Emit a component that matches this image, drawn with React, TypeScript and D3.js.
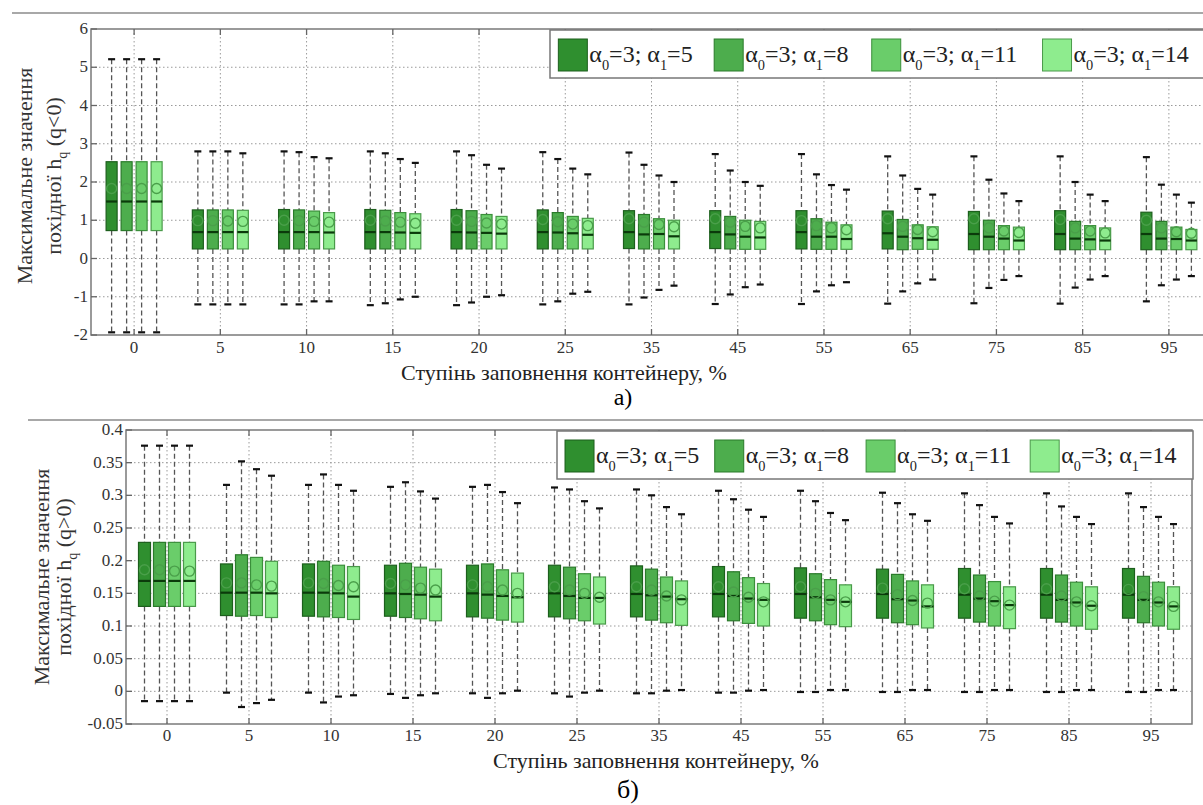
import React from "react";
import * as d3 from "d3";

const CATEGORIES = ["0", "5", "10", "15", "20", "25", "35", "45", "55", "65", "75", "85", "95"];
const ALPHA0 = [3, 3, 3, 3];
const ALPHA1 = [5, 8, 11, 14];
const FILLS = ["#2f8f2f", "#4dad4d", "#6acd6a", "#8eec8e"];
const STROKES = ["#1d5f1d", "#2a7a2a", "#3b8f3b", "#4a9a4a"];

// ---- panel a) h_q (q<0) ----
const TOP_HI = [
  [5.21, 2.8, 2.8, 2.8, 2.8, 2.78, 2.77, 2.73, 2.73, 2.67, 2.67, 2.67, 2.65],
  [5.21, 2.8, 2.78, 2.75, 2.7, 2.6, 2.45, 2.3, 2.2, 2.17, 2.06, 2.0, 1.93],
  [5.21, 2.8, 2.65, 2.6, 2.45, 2.35, 2.17, 2.0, 1.92, 1.82, 1.7, 1.67, 1.67],
  [5.21, 2.75, 2.62, 2.5, 2.35, 2.2, 2.0, 1.9, 1.8, 1.67, 1.5, 1.5, 1.46],
];
const TOP_Q3 = [
  [2.53, 1.27, 1.28, 1.28, 1.28, 1.27, 1.25, 1.25, 1.25, 1.24, 1.23, 1.25, 1.21],
  [2.53, 1.27, 1.27, 1.26, 1.25, 1.2, 1.15, 1.1, 1.04, 1.02, 1.0, 0.97, 0.97],
  [2.53, 1.27, 1.24, 1.2, 1.15, 1.1, 1.04, 1.0, 0.95, 0.88, 0.86, 0.86, 0.82],
  [2.53, 1.26, 1.2, 1.17, 1.1, 1.05, 1.0, 0.97, 0.88, 0.83, 0.82, 0.8, 0.76],
];
const TOP_MED = [
  [1.49, 0.69, 0.69, 0.69, 0.69, 0.69, 0.69, 0.69, 0.69, 0.66, 0.64, 0.64, 0.64],
  [1.49, 0.69, 0.69, 0.69, 0.68, 0.68, 0.63, 0.63, 0.57, 0.57, 0.57, 0.52, 0.52],
  [1.49, 0.69, 0.69, 0.68, 0.67, 0.66, 0.64, 0.57, 0.57, 0.53, 0.52, 0.5, 0.51],
  [1.49, 0.69, 0.68, 0.67, 0.65, 0.62, 0.58, 0.55, 0.51, 0.49, 0.47, 0.47, 0.47],
];
const TOP_MEAN = [
  [1.83, 0.99, 1.0, 1.0, 1.0, 1.02, 1.04, 1.04, 0.99, 1.04, 1.04, 1.02, 1.0],
  [1.83, 0.99, 0.99, 0.98, 0.97, 0.96, 0.95, 0.95, 0.86, 0.84, 0.8, 0.8, 0.8],
  [1.83, 0.98, 0.97, 0.95, 0.93, 0.9, 0.89, 0.84, 0.8, 0.76, 0.72, 0.72, 0.7],
  [1.83, 0.97, 0.95, 0.92, 0.9, 0.86, 0.83, 0.8, 0.75, 0.7, 0.68, 0.67, 0.66],
];
const TOP_Q1 = [
  [0.73, 0.25, 0.25, 0.25, 0.25, 0.25, 0.26, 0.26, 0.25, 0.25, 0.23, 0.23, 0.23],
  [0.73, 0.25, 0.25, 0.25, 0.25, 0.25, 0.25, 0.25, 0.24, 0.23, 0.23, 0.23, 0.23],
  [0.73, 0.25, 0.25, 0.25, 0.25, 0.25, 0.25, 0.24, 0.24, 0.24, 0.23, 0.23, 0.23],
  [0.73, 0.25, 0.25, 0.25, 0.25, 0.25, 0.25, 0.24, 0.24, 0.24, 0.23, 0.23, 0.23],
];
const TOP_LO = [
  [-1.93, -1.2, -1.2, -1.22, -1.22, -1.2, -1.2, -1.19, -1.19, -1.18, -1.17, -1.18, -1.12],
  [-1.93, -1.2, -1.2, -1.17, -1.15, -1.12, -1.02, -0.94, -0.86, -0.86, -0.77, -0.76, -0.7],
  [-1.93, -1.2, -1.12, -1.07, -1.0, -0.92, -0.82, -0.75, -0.7, -0.65, -0.56, -0.55, -0.55],
  [-1.93, -1.2, -1.12, -1.0, -0.96, -0.87, -0.71, -0.68, -0.62, -0.55, -0.46, -0.46, -0.46],
];
const TOP_YTICKS = [-2, -1, 0, 1, 2, 3, 4, 5, 6];
const TOP_YLABELS = ["-2", "-1", "0", "1", "2", "3", "4", "5", "6"];

// ---- panel б) h_q (q>0) ----
const BOT_HI = [
  [0.376, 0.316, 0.316, 0.313, 0.313, 0.312, 0.309, 0.307, 0.307, 0.304, 0.303, 0.303, 0.303],
  [0.376, 0.352, 0.332, 0.32, 0.316, 0.309, 0.3, 0.294, 0.291, 0.288, 0.285, 0.283, 0.282],
  [0.376, 0.34, 0.316, 0.306, 0.305, 0.291, 0.282, 0.278, 0.273, 0.271, 0.267, 0.267, 0.267],
  [0.376, 0.33, 0.307, 0.295, 0.288, 0.28, 0.271, 0.267, 0.262, 0.261, 0.257, 0.256, 0.256],
];
const BOT_Q3 = [
  [0.228, 0.195, 0.195, 0.193, 0.193, 0.193, 0.192, 0.191, 0.189, 0.187, 0.188, 0.188, 0.188],
  [0.228, 0.209, 0.199, 0.196, 0.195, 0.19, 0.187, 0.183, 0.18, 0.179, 0.178, 0.178, 0.176],
  [0.228, 0.205, 0.193, 0.19, 0.186, 0.18, 0.175, 0.174, 0.171, 0.169, 0.168, 0.167, 0.167],
  [0.228, 0.199, 0.191, 0.187, 0.181, 0.175, 0.169, 0.165, 0.163, 0.163, 0.16, 0.16, 0.16],
];
const BOT_MED = [
  [0.169, 0.151, 0.151, 0.15, 0.15, 0.15, 0.149, 0.149, 0.149, 0.149, 0.148, 0.148, 0.148],
  [0.169, 0.151, 0.151, 0.149, 0.148, 0.146, 0.147, 0.146, 0.144, 0.141, 0.142, 0.14, 0.14],
  [0.169, 0.151, 0.15, 0.148, 0.146, 0.143, 0.145, 0.142, 0.14, 0.139, 0.138, 0.136, 0.136],
  [0.169, 0.15, 0.145, 0.145, 0.144, 0.143, 0.141, 0.14, 0.137, 0.13, 0.132, 0.131, 0.13],
];
const BOT_MEAN = [
  [0.186, 0.166, 0.166, 0.165, 0.163, 0.16, 0.16, 0.16, 0.16, 0.158, 0.157, 0.157, 0.156],
  [0.186, 0.166, 0.165, 0.163, 0.16, 0.155, 0.155, 0.152, 0.15, 0.148, 0.146, 0.146, 0.145],
  [0.184, 0.163, 0.162, 0.158, 0.155, 0.15, 0.146, 0.144, 0.14, 0.139, 0.138, 0.137, 0.137],
  [0.184, 0.161, 0.16, 0.155, 0.15, 0.144, 0.14, 0.137, 0.137, 0.135, 0.132, 0.131, 0.13],
];
const BOT_Q1 = [
  [0.13, 0.116, 0.115, 0.115, 0.114, 0.114, 0.114, 0.114, 0.112, 0.112, 0.112, 0.112, 0.112],
  [0.13, 0.115, 0.114, 0.113, 0.112, 0.111, 0.109, 0.108, 0.108, 0.105, 0.106, 0.106, 0.105],
  [0.13, 0.116, 0.113, 0.111, 0.109, 0.108, 0.105, 0.104, 0.102, 0.102, 0.1, 0.1, 0.1],
  [0.13, 0.113, 0.11, 0.108, 0.106, 0.103, 0.101, 0.1, 0.099, 0.097, 0.096, 0.095, 0.095],
];
const BOT_LO = [
  [-0.015, -0.002, -0.002, -0.004, -0.003, -0.003, -0.003, -0.002, -0.001, -0.001, -0.001, -0.001, -0.001],
  [-0.015, -0.024, -0.017, -0.01, -0.01, -0.008, -0.003, -0.002, -0.001, -0.001, -0.001, -0.001, -0.001],
  [-0.015, -0.018, -0.008, -0.006, -0.003, -0.002, 0.001, 0.001, 0.002, 0.002, 0.002, 0.002, 0.002],
  [-0.015, -0.013, -0.006, -0.003, 0.001, 0.001, 0.002, 0.002, 0.002, 0.002, 0.002, 0.002, 0.002],
];
const BOT_YTICKS = [-0.05, 0, 0.05, 0.1, 0.15, 0.2, 0.25, 0.3, 0.35, 0.4];
const BOT_YLABELS = ["-0.05", "0", "0.05", "0.1", "0.15", "0.2", "0.25", "0.3", "0.35", "0.4"];

const XTITLE = "Ступінь заповнення контейнеру, %";
const YTITLE1 = "Максимальне значення";
const YTITLE2 = "похідної h";
const FONT = "Liberation Serif, DejaVu Serif, serif";

type Stats = { hi: number[][]; q3: number[][]; med: number[][]; mean: number[][]; q1: number[][]; lo: number[][] };

function Legend({ left, right, top, height, font }: { left: number; right: number; top: number; height: number; font: number }) {
  const w = right - left;
  const fr = [0.0126, 0.248, 0.486, 0.744];
  const pTop = top + 9;
  const pH = height - 16;
  const base = pTop + pH * 0.72;
  return (
    <g>
      <rect x={left} y={top} width={w} height={height} fill="#fff" stroke="#777" strokeWidth={1.5} />
      {ALPHA1.map((a1, j) => {
        const px = left + fr[j] * w;
        return (
          <g key={j}>
            <rect x={px} y={pTop} width={29} height={pH} fill={FILLS[j]} stroke={STROKES[j]} strokeWidth={1} />
            <text x={px + 31} y={base} fontFamily={FONT} fontSize={font} fill="#222">
              <tspan>α</tspan>
              <tspan dy={8} fontSize={font * 0.6}>{ALPHA0[j] - 3}</tspan>
              <tspan dy={-8}>{"=" + ALPHA0[j] + "; α"}</tspan>
              <tspan dy={8} fontSize={font * 0.6}>1</tspan>
              <tspan dy={-8}>{"=" + a1}</tspan>
            </text>
          </g>
        );
      })}
    </g>
  );
}

function Panel(props: {
  x0: number; x1: number; y0: number; y1: number; domain: [number, number];
  yTicks: number[]; yLabels: string[]; d: Stats; boxW: number; legend: { left: number; right: number; top: number; height: number; font: number };
  yTitleX: [number, number]; yTitleY: number; sign: string; xTitleX: number; xTitleY: number; tickLabelY: number;
}) {
  const { x0, x1, y0, y1, domain, yTicks, yLabels, d, boxW } = props;
  const x = d3.scaleLinear().domain([0.5, CATEGORIES.length + 0.5]).range([x0, x1]);
  const y = d3.scaleLinear().domain(domain).range([y1, y0]);
  const step = 15;
  const capW = 7;
  return (
    <g>
      {yTicks.slice(1, -1).map((t, i) => (
        <line key={"gy" + i} x1={x0} x2={x1} y1={y(t)} y2={y(t)} stroke="#9a9a9a" strokeWidth={1} strokeDasharray="1.5 2.5" />
      ))}
      {CATEGORIES.map((c, i) => (
        <line key={"gx" + i} x1={x(i + 1)} x2={x(i + 1)} y1={y0} y2={y1} stroke="#9a9a9a" strokeWidth={1} strokeDasharray="1.5 2.5" />
      ))}
      {CATEGORIES.map((c, i) =>
        [0, 1, 2, 3].map((j) => {
          const cx = x(i + 1) + (j - 1.5) * step;
          const yh = y(d.hi[j][i]);
          const y3 = y(d.q3[j][i]);
          const ym = y(d.med[j][i]);
          const y1q = y(d.q1[j][i]);
          const yl = y(d.lo[j][i]);
          const ymean = y(d.mean[j][i]);
          return (
            <g key={c + "-" + j}>
              <line x1={cx} x2={cx} y1={yh} y2={y3} stroke="#555" strokeWidth={1.3} strokeDasharray="5 3" />
              <line x1={cx} x2={cx} y1={y1q} y2={yl} stroke="#555" strokeWidth={1.3} strokeDasharray="5 3" />
              <line x1={cx - capW / 2} x2={cx + capW / 2} y1={yh} y2={yh} stroke="#111" strokeWidth={2.2} />
              <line x1={cx - capW / 2} x2={cx + capW / 2} y1={yl} y2={yl} stroke="#111" strokeWidth={2.2} />
              <rect x={cx - boxW / 2} y={y3} width={boxW} height={y1q - y3} fill={FILLS[j]} stroke={STROKES[j]} strokeWidth={1.2} />
              <line x1={cx - boxW / 2} x2={cx + boxW / 2} y1={ym} y2={ym} stroke="#0b3a0b" strokeWidth={2.2} />
              <circle cx={cx} cy={ymean} r={5} fill="none" stroke="#4a9f4a" strokeWidth={1.4} />
            </g>
          );
        })
      )}
      <rect x={x0} y={y0} width={x1 - x0} height={y1 - y0} fill="none" stroke="#7a7a7a" strokeWidth={1.5} />
      {CATEGORIES.map((c, i) => (
        <g key={"tx" + i}>
          <line x1={x(i + 1)} x2={x(i + 1)} y1={y1} y2={y1 - 6} stroke="#666" strokeWidth={1.3} />
          <line x1={x(i + 1)} x2={x(i + 1)} y1={y0} y2={y0 + 6} stroke="#666" strokeWidth={1.3} />
          <text x={x(i + 1)} y={props.tickLabelY} textAnchor="middle" fontFamily={FONT} fontSize={17} fill="#333">{c}</text>
        </g>
      ))}
      {yTicks.map((t, i) => (
        <g key={"ty" + i}>
          <line x1={x0} x2={x0 + 6} y1={y(t)} y2={y(t)} stroke="#666" strokeWidth={1.3} />
          <text x={x0 - 3} y={y(t) + 5} textAnchor="end" fontFamily={FONT} fontSize={17} fill="#333">{yLabels[i]}</text>
        </g>
      ))}
      <Legend {...props.legend} />
      <text transform={`translate(${props.yTitleX[0]},${props.yTitleY}) rotate(-90)`} textAnchor="middle" fontFamily={FONT} fontSize={22} fill="#333">{YTITLE1}</text>
      <text transform={`translate(${props.yTitleX[1]},${props.yTitleY}) rotate(-90)`} textAnchor="middle" fontFamily={FONT} fontSize={22} fill="#333">
        <tspan>{YTITLE2}</tspan>
        <tspan dy={6} fontSize={14}>q</tspan>
        <tspan dy={-6}>{" (q" + props.sign + "0)"}</tspan>
      </text>
      <text x={props.xTitleX} y={props.xTitleY} textAnchor="middle" fontFamily={FONT} fontSize={22} fill="#222">{XTITLE}</text>
    </g>
  );
}

export default function App() {
  const top: Stats = { hi: TOP_HI, q3: TOP_Q3, med: TOP_MED, mean: TOP_MEAN, q1: TOP_Q1, lo: TOP_LO };
  const bot: Stats = { hi: BOT_HI, q3: BOT_Q3, med: BOT_MED, mean: BOT_MEAN, q1: BOT_Q1, lo: BOT_LO };
  return (
    <svg width={1203} height={805} style={{ position: "absolute", left: 0, top: 0, background: "#fff" }} fontFamily={FONT}>
      <rect width={1203} height={805} fill="#fff" />
      <line x1={12} x2={1203} y1={13} y2={13} stroke="#a8a8a8" strokeWidth={2} />
      <line x1={28} x2={1203} y1={420} y2={420} stroke="#a8a8a8" strokeWidth={2} />
      <Panel x0={91} x1={1212} y0={29} y1={335} domain={[-2, 6]} yTicks={TOP_YTICKS} yLabels={TOP_YLABELS} d={top} boxW={11}
        legend={{ left: 550, right: 1212, top: 30, height: 48, font: 24 }}
        yTitleX={[32, 61]} yTitleY={176} sign="<" xTitleX={564} xTitleY={380} tickLabelY={353} />
      <Panel x0={126} x1={1192} y0={430} y1={724} domain={[-0.05, 0.4]} yTicks={BOT_YTICKS} yLabels={BOT_YLABELS} d={bot} boxW={12}
        legend={{ left: 557, right: 1193, top: 431, height: 48, font: 24 }}
        yTitleX={[49, 71]} yTitleY={577} sign=">" xTitleX={656} xTitleY={768} tickLabelY={741} />
      <text x={623} y={405} textAnchor="middle" fontFamily={FONT} fontSize={24} fill="#000">а)</text>
      <text x={628} y={798} textAnchor="middle" fontFamily={FONT} fontSize={26} fill="#000">б)</text>
    </svg>
  );
}
